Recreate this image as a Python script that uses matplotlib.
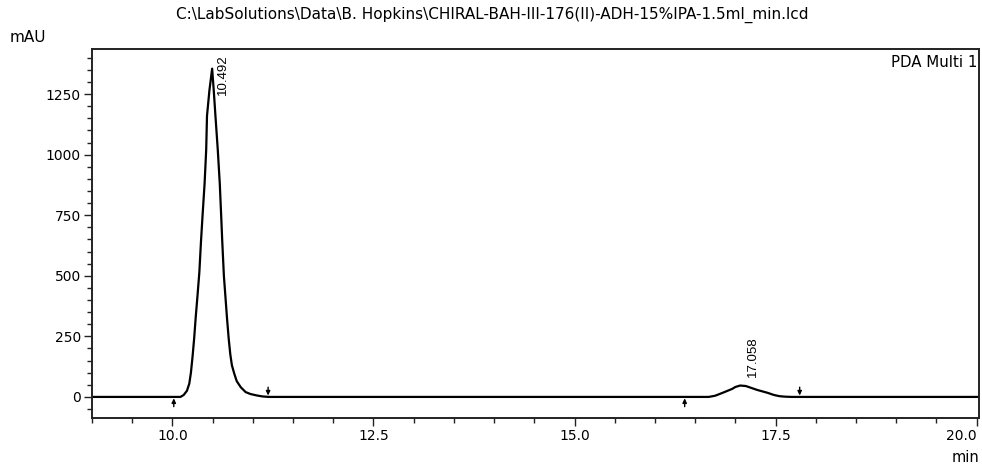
import numpy as np
import matplotlib.pyplot as plt
from matplotlib.ticker import MultipleLocator, FixedLocator

plt.rcParams['font.family'] = ['DejaVu Sans']

# chromatogram trace (min, mAU)
time = [9.00, 10.00, 10.10, 10.14, 10.18, 10.21, 10.23, 10.25, 10.27, 10.29,
        10.31, 10.335, 10.355, 10.375, 10.40, 10.42, 10.43, 10.46, 10.494,
        10.514, 10.535, 10.564, 10.589, 10.606, 10.62, 10.64, 10.66, 10.68,
        10.70, 10.72, 10.74, 10.77, 10.80, 10.85, 10.91, 10.97, 11.05, 11.12,
        11.20, 16.60, 16.67, 16.75, 16.85, 16.96, 17.00, 17.06, 17.13, 17.20,
        17.27, 17.40, 17.48, 17.55, 17.62, 17.70, 20.05]
mau = [0, 0, 0, 8, 25, 55, 100, 165, 240, 330,
       410, 515, 640, 750, 880, 1020, 1160, 1265, 1355,
       1265, 1160, 1020, 880, 750, 640, 500, 410, 320,
       240, 175, 130, 95, 65, 40, 20, 12, 6, 2,
       0, 0, 0, 5, 18, 33, 41, 47, 45, 37,
       29, 17, 8, 3, 1, 0, 0]

peak_rt = [10.492, 17.058]
peak_top = [1355, 47]
peak_start = [10.017, 16.37]
peak_end = [11.19, 17.80]

title = r'C:\LabSolutions\Data\B. Hopkins\CHIRAL-BAH-III-176(II)-ADH-15%IPA-1.5ml_min.lcd'

fig = plt.figure(figsize=(9.82, 4.66), dpi=100)
ax = fig.add_axes([92/982, 1 - 418/466, (979 - 92)/982, (418 - 49)/466])

ax.plot(time, mau, color='black', lw=1.6)

ax.set_xlim(9.0, 20.03)
ax.set_ylim(-87, 1436)

ax.xaxis.set_major_locator(FixedLocator([10.0, 12.5, 15.0, 17.5, 20.0]))
ax.xaxis.set_minor_locator(MultipleLocator(0.5))
ax.yaxis.set_major_locator(MultipleLocator(250))
ax.yaxis.set_minor_locator(MultipleLocator(50))
ax.set_xticklabels(['10.0', '12.5', '15.0', '17.5', '20.0'])
ax.xaxis.get_majorticklabels()[-1].set_horizontalalignment('right')

ax.tick_params(which='major', length=6, width=1, labelsize=10, pad=2, color='#222222')
ax.tick_params(which='minor', length=3.5, width=1, color='#222222')
for s in ax.spines.values():
    s.set_linewidth(1.4)
    s.set_color('#222222')

# integration marks
for t in peak_start:
    ax.annotate('', xy=(t, 0), xytext=(0, -7), textcoords='offset points',
                arrowprops=dict(arrowstyle='-|>,head_length=0.25,head_width=0.12',
                                color='black', lw=1, shrinkA=0, shrinkB=1))
for t in peak_end:
    ax.annotate('', xy=(t, 0), xytext=(0, 7), textcoords='offset points',
                arrowprops=dict(arrowstyle='-|>,head_length=0.25,head_width=0.12',
                                color='black', lw=1, shrinkA=0, shrinkB=1))

# retention time labels
ax.annotate(f'{peak_rt[0]:.3f}', xy=(peak_rt[0], 1), xycoords=('data', 'axes fraction'),
            xytext=(8, -4), textcoords='offset points', rotation=90,
            ha='center', va='top', fontsize=9.5, family='Liberation Sans')
ax.annotate(f'{peak_rt[1]:.3f}', xy=(peak_rt[1], peak_top[1]),
            xytext=(9, 6), textcoords='offset points', rotation=90,
            ha='center', va='bottom', fontsize=9.5, family='Liberation Sans')

ax.text(0.998, 0.985, 'PDA Multi 1', transform=ax.transAxes, ha='right', va='top', fontsize=10.8)
fig.text(492/982, 1 - 15/466, title, ha='center', va='center', fontsize=11)
fig.text(10/982, 1 - 37/466, 'mAU', ha='left', va='center', fontsize=11)
fig.text(979/982, 1 - 457/466, 'min', ha='right', va='center', fontsize=10.5)

fig.savefig('out.png', dpi=100)
